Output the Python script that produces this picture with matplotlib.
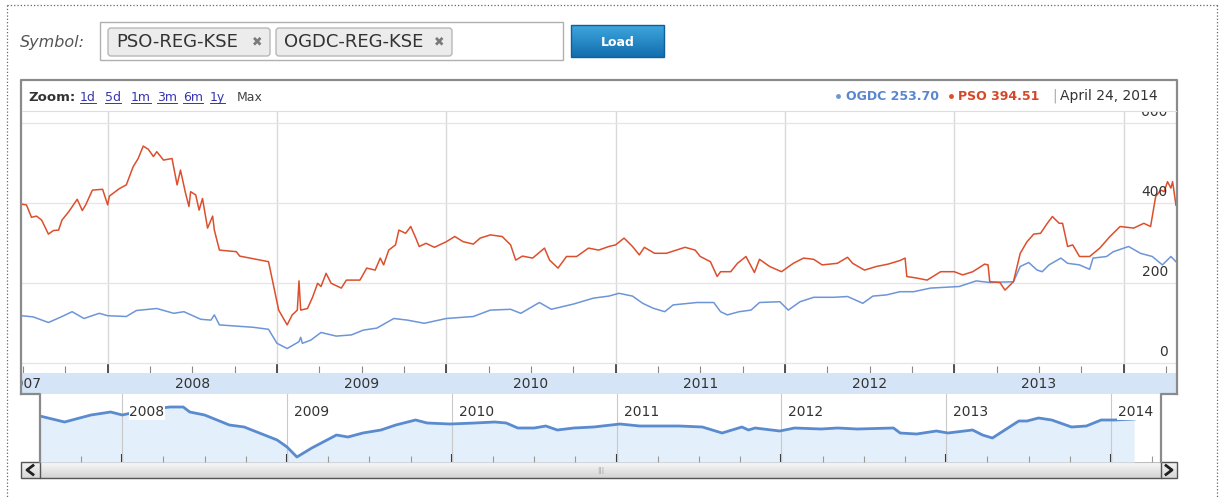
import numpy as np
import matplotlib.pyplot as plt
from matplotlib.patches import Rectangle, FancyBboxPatch

W, H = 1220, 498

# PSO-REG-KSE close (decimal year, price)
pso_t = [2007.49, 2007.52, 2007.55, 2007.58, 2007.61, 2007.65, 2007.68, 2007.71, 2007.73, 2007.77,
         2007.82, 2007.85, 2007.87, 2007.91, 2007.97, 2008.00, 2008.01, 2008.07, 2008.11, 2008.15,
         2008.18, 2008.21, 2008.24, 2008.27, 2008.29, 2008.33, 2008.38, 2008.41, 2008.43, 2008.46,
         2008.48, 2008.49, 2008.52, 2008.54, 2008.56, 2008.59, 2008.62, 2008.63, 2008.66, 2008.76,
         2008.78, 2008.95, 2009.01, 2009.06, 2009.09, 2009.12, 2009.13, 2009.14, 2009.18, 2009.21,
         2009.24, 2009.26, 2009.29, 2009.32, 2009.38, 2009.41, 2009.49, 2009.53, 2009.58, 2009.61,
         2009.63, 2009.66, 2009.70, 2009.72, 2009.76, 2009.79, 2009.82, 2009.84, 2009.88, 2009.93,
         2010.00, 2010.05, 2010.10, 2010.16, 2010.20, 2010.26, 2010.33, 2010.38, 2010.41, 2010.45,
         2010.51, 2010.58, 2010.61, 2010.66, 2010.71, 2010.77, 2010.84, 2010.90, 2010.96, 2011.00,
         2011.05, 2011.10, 2011.14, 2011.17, 2011.23, 2011.30, 2011.41, 2011.47, 2011.50, 2011.56,
         2011.60, 2011.62, 2011.68, 2011.72, 2011.77, 2011.82, 2011.85, 2011.91, 2011.98, 2012.05,
         2012.11, 2012.17, 2012.22, 2012.31, 2012.37, 2012.40, 2012.47, 2012.54, 2012.61, 2012.68,
         2012.71, 2012.72, 2012.78, 2012.84, 2012.92, 2013.00, 2013.05, 2013.11, 2013.18, 2013.20,
         2013.21, 2013.27, 2013.30, 2013.35, 2013.39, 2013.43, 2013.47, 2013.51, 2013.55, 2013.58,
         2013.62, 2013.64, 2013.67, 2013.70, 2013.74, 2013.80, 2013.86, 2013.92, 2013.98, 2014.06,
         2014.12, 2014.16, 2014.19, 2014.22, 2014.24, 2014.26, 2014.28, 2014.29, 2014.31]
pso_v = [398, 396, 365, 368, 358, 323, 332, 333, 358, 379,
         410, 382, 396, 433, 435, 396, 418, 437, 446, 491,
         512, 543, 535, 517, 529, 508, 512, 446, 483, 425,
         392, 429, 421, 383, 412, 338, 368, 333, 283, 279,
         268, 254, 133, 96, 121, 133, 206, 133, 137, 165,
         200, 192, 225, 200, 188, 208, 208, 238, 233, 263,
         246, 283, 296, 333, 325, 342, 313, 292, 300, 290,
         304, 317, 304, 298, 313, 321, 317, 296, 258, 268,
         263, 288, 258, 238, 267, 267, 288, 283, 292, 296,
         313, 292, 271, 290, 275, 275, 290, 283, 267, 254,
         217, 229, 229, 250, 267, 227, 260, 242, 229, 250,
         263, 260, 246, 250, 265, 250, 233, 242, 248, 257,
         263, 217, 213, 208, 229, 229, 221, 229, 248, 246,
         204, 202, 183, 204, 275, 304, 323, 325, 350, 367,
         350, 350, 292, 296, 267, 267, 288, 317, 342, 338,
         350, 342, 417, 433, 429, 454, 438, 454, 395]

# OGDC-REG-KSE close
ogdc_t = [2007.49, 2007.56, 2007.65, 2007.72, 2007.79, 2007.86, 2007.95, 2008.00, 2008.11, 2008.17,
          2008.29, 2008.39, 2008.45, 2008.55, 2008.61, 2008.63, 2008.66, 2008.86, 2008.95, 2009.00,
          2009.06, 2009.13, 2009.14, 2009.15, 2009.20, 2009.26, 2009.35, 2009.44, 2009.51, 2009.59,
          2009.69, 2009.77, 2009.87, 2010.00, 2010.16, 2010.26, 2010.38, 2010.44, 2010.55, 2010.62,
          2010.75, 2010.87, 2010.96, 2011.02, 2011.10, 2011.16, 2011.22, 2011.29, 2011.34, 2011.48,
          2011.58, 2011.62, 2011.66, 2011.73, 2011.80, 2011.85, 2011.97, 2012.02, 2012.09, 2012.17,
          2012.29, 2012.37, 2012.46, 2012.52, 2012.60, 2012.68, 2012.76, 2012.86, 2013.03, 2013.13,
          2013.21, 2013.35, 2013.39, 2013.44, 2013.49, 2013.52, 2013.56, 2013.63, 2013.67, 2013.74,
          2013.80, 2013.82, 2013.90, 2013.94, 2014.03, 2014.10, 2014.17, 2014.23, 2014.28, 2014.31]
ogdc_v = [119, 116, 102, 115, 129, 112, 125, 119, 117, 132,
          137, 125, 129, 110, 108, 121, 96, 90, 85, 50,
          37, 54, 65, 50, 58, 77, 68, 71, 83, 88,
          112, 108, 100, 112, 117, 133, 135, 125, 152, 135,
          148, 163, 168, 175, 168, 150, 138, 129, 146, 152,
          152, 129, 121, 129, 133, 152, 154, 133, 154, 165,
          165, 167, 150, 168, 171, 179, 179, 188, 192, 206,
          202, 204, 242, 252, 233, 229, 246, 263, 250, 246,
          235, 263, 267, 279, 292, 275, 267, 246, 267, 254]

# overview strip at the bottom (relative level)
nav_t = [2007.50, 2007.65, 2007.81, 2007.93, 2008.00, 2008.14, 2008.29, 2008.37, 2008.41, 2008.50,
         2008.65, 2008.74, 2008.94, 2009.00, 2009.06, 2009.15, 2009.30, 2009.37, 2009.46, 2009.57,
         2009.66, 2009.78, 2009.85, 2009.99, 2010.14, 2010.26, 2010.33, 2010.40, 2010.50, 2010.57,
         2010.64, 2010.74, 2010.86, 2011.02, 2011.14, 2011.38, 2011.52, 2011.64, 2011.76, 2011.80,
         2011.84, 2011.99, 2012.08, 2012.24, 2012.34, 2012.46, 2012.68, 2012.72, 2012.82, 2012.94,
         2013.01, 2013.16, 2013.22, 2013.28, 2013.44, 2013.49, 2013.56, 2013.64, 2013.76, 2013.85,
         2013.94, 2014.02, 2014.14]
nav_v = [46, 40, 47, 50, 47, 52, 55, 55, 50, 47,
         37, 35, 22, 15, 5, 14, 27, 25, 29, 32,
         37, 42, 39, 38, 39, 40, 39, 34, 34, 36,
         32, 34, 35, 38, 36, 36, 35, 29, 35, 32,
         34, 31, 34, 33, 34, 33, 34, 29, 28, 31,
         29, 32, 27, 24, 41, 41, 44, 42, 35, 36,
         42, 42, 43]

years = [2007, 2008, 2009, 2010, 2011, 2012, 2013, 2014]
y_ticks = [0, 200, 400, 600]
symbols = ["PSO-REG-KSE", "OGDC-REG-KSE"]
zoom_links = ["1d", "5d", "1m", "3m", "6m", "1y"]
last_ogdc = "OGDC 253.70"
last_pso = "PSO 394.51"
last_date = "April 24, 2014"

PSO_C = '#dc4f2c'
OGDC_C = '#6d95d8'
MAIN_XLIM = (2007.488, 2014.316)
NAV_XLIM = (2007.498, 2014.303)

fig = plt.figure(figsize=(W / 100, H / 100), dpi=100)
fig.patch.set_facecolor('white')


def px_axes(x0, y0, x1, y1, **kw):
    return fig.add_axes([x0 / W, 1 - y1 / H, (x1 - x0) / W, (y1 - y0) / H], **kw)


def canvas_axes():
    c = fig.add_axes([0, 0, 1, 1], facecolor='none')
    c.axis('off')
    return c


def vgrad(c, x0, x1, y0, y1, top, bot):
    a = np.array(plt.matplotlib.colors.to_rgb(top))
    b = np.array(plt.matplotlib.colors.to_rgb(bot))
    g = np.linspace(0, 1, 32)[:, None, None]
    img = a * (1 - g) + b * g
    c.imshow(img, extent=(x0, x1, y1, y0), aspect='auto', interpolation='bilinear', zorder=2)


quarters = [y + q for y in years for q in (0.25, 0.5, 0.75)]

# ---------- background canvas ----------
bg = canvas_axes()
bg.plot([7, 1218], [5, 5], ls=':', color='#666666', lw=0.9)
bg.plot([7, 7], [5, 498], ls=':', color='#666666', lw=0.9)
bg.plot([1217, 1217], [5, 498], ls=':', color='#666666', lw=0.9)

bg.text(20, 42, "Symbol:", fontsize=11.5, style='italic', color='#555555', va='center')
bg.add_patch(Rectangle((100, 22), 463, 38, fc='white', ec='#b0b0b0', lw=1))
tag_boxes = [(108, 162), (276, 176)]
for name, (tx, tw) in zip(symbols, tag_boxes):
    bg.add_patch(FancyBboxPatch((tx, 28), tw, 28, boxstyle='round,pad=0,rounding_size=3',
                                fc='#ececec', ec='#b8b8b8', lw=1))
    bg.text(tx + 8, 42, name, fontsize=13, color='#333333', va='center')
    bg.text(tx + tw - 8, 42, "✖", fontsize=9, color='#7a7a7a', va='center', ha='right')

vgrad(bg, 571, 664, 25, 57, '#3ea6de', '#136eae')
bg.add_patch(Rectangle((571, 25), 93, 32, fc='none', ec='#0f5f98', lw=1, zorder=3))
bg.text(617.5, 42, "Load", fontsize=9, color='white', weight='bold', ha='center', va='center', zorder=4)

# header row
bg.text(28, 101, "Zoom:", fontsize=9.5, weight='bold', color='#333333', va='baseline')
link_x = [80, 105, 131, 157, 183, 210]
link_texts = []
for lab, lx in zip(zoom_links, link_x):
    link_texts.append(bg.text(lx, 101, lab, fontsize=9, color='#3636b0', va='baseline'))
bg.text(237, 101, "Max", fontsize=9, color='#444444', va='baseline')

bg.plot([838], [96], 'o', ms=3.5, color=OGDC_C, mec='none')
bg.text(846, 96, last_ogdc, fontsize=9, weight='bold', color='#5a86d0', va='center')
bg.plot([951], [96], 'o', ms=3.5, color=PSO_C, mec='none')
bg.text(958, 96, last_pso, fontsize=9, weight='bold', color='#d4482a', va='center')
bg.text(1052, 96, "|", fontsize=10, color='#aaaaaa', va='center')
bg.text(1060, 96, last_date, fontsize=10, color='#333333', va='center')

# scrollbar
vgrad(bg, 39.5, 1161, 462, 478, '#f8f8f8', '#d4d4d4')
for bx0 in (21, 1161):
    bw = 18.5 if bx0 == 21 else 16
    vgrad(bg, bx0, bx0 + bw, 462, 478, '#f4f4f4', '#d8d8d8')
    bg.add_patch(Rectangle((bx0, 462), bw, 16, fc='none', ec='#555555', lw=1, zorder=3))
bg.plot([33, 27, 33], [465.5, 470, 474.5], color='#222222', lw=2, zorder=4)
bg.plot([1166, 1172, 1166], [465.5, 470, 474.5], color='#222222', lw=2, zorder=4)
bg.plot([39.5, 1161], [478, 478], color='#555555', lw=1, zorder=3)
bg.plot([39.5, 1161], [462, 462], color='#bdbdbd', lw=0.8, zorder=3)
bg.text(601, 470, "|||", fontsize=5, color='#a0a0a0', ha='center', va='center', zorder=4)

bg.set_xlim(0, W)
bg.set_ylim(H, 0)

# ---------- main chart ----------
ax = px_axes(21, 111, 1177, 373, facecolor='white')
ax.plot(ogdc_t, ogdc_v, color=OGDC_C, lw=1.1, zorder=3)
ax.plot(pso_t, pso_v, color=PSO_C, lw=1.1, zorder=4)
ax.set_xticks(years[1:])
ax.set_xticks(quarters, minor=True)
ax.set_yticks(y_ticks)
ax.set_xlim(MAIN_XLIM)
ax.set_ylim(-24.25, 630.75)
ax.grid(axis='x', which='major', color='#d9d9d9', lw=1, zorder=0)
ax.grid(axis='y', color='#e6e6e6', lw=1, zorder=0)
ax.tick_params(axis='x', which='major', direction='in', length=7, width=1.3, color='#444444',
               labelbottom=False)
ax.tick_params(axis='x', which='minor', direction='in', length=5, width=0.8, color='#888888')
ax.tick_params(axis='y', length=0, labelleft=False)
for s in ax.spines.values():
    s.set_visible(False)
for v in y_ticks:
    ax.annotate(str(v), xy=(0.992, v), xycoords=('axes fraction', 'data'), xytext=(0, 11),
                textcoords='offset pixels', ha='right', va='center', fontsize=10,
                color='#333333', zorder=5, clip_on=True, annotation_clip=False)

# year band under the chart (2007 is mostly cut by the left edge, as on the page)
band = px_axes(21, 373, 1177, 394, facecolor='#d5e4f6')
band.set_xlim(MAIN_XLIM)
band.set_ylim(0, 1)
for y in years[:-1]:
    band.text(y + 0.5, 0.48, str(y), ha='center', va='center', fontsize=10, color='#333333', clip_on=True)
band.set_xticks([])
band.set_yticks([])
for s in band.spines.values():
    s.set_visible(False)

# ---------- overview navigator ----------
nav = px_axes(39.5, 394, 1161, 462, facecolor='white')
nav.fill_between(nav_t, nav_v, 0, color='#e3effb', lw=0, zorder=1)
nav.plot(nav_t, nav_v, color='#5a8bcf', lw=2, zorder=3)
for y in years[1:]:
    nav.axvline(y, color='#c9c9c9', lw=0.8, zorder=2)
    nav.annotate(str(y), xy=(y, 50), xytext=(7, 0), textcoords='offset pixels', ha='left',
                 va='center', fontsize=10, color='#333333', zorder=4,
                 bbox=dict(fc='white', ec='none', pad=0.5))
nav.set_xticks(years[1:])
nav.set_xticks(quarters, minor=True)
nav.set_yticks([])
nav.set_xlim(NAV_XLIM)
nav.set_ylim(0, 68)
nav.tick_params(axis='x', which='major', direction='in', length=6, width=1.5, color='#333333',
                labelbottom=False, pad=0)
nav.tick_params(axis='x', which='minor', direction='in', length=4, width=0.8, color='#9a9a9a')
for s in nav.spines.values():
    s.set_visible(False)

# ---------- frame overlay ----------
fr = canvas_axes()
fr.plot([21, 21, 1177, 1177], [394, 80, 80, 394], color='#8a8a8a', lw=1.6)
fr.plot([21, 39.5, 39.5], [394, 394, 462], color='#8a8a8a', lw=1.6)
fr.plot([1177, 1161, 1161], [394, 394, 462], color='#8a8a8a', lw=1.6)
fr.plot([22, 1176], [111, 111], color='#dedede', lw=0.8)
fr.set_xlim(0, W)
fr.set_ylim(H, 0)

# underline the zoom links
fig.canvas.draw()
inv = bg.transData.inverted()
for t in link_texts:
    bb = t.get_window_extent()
    (x0, _), (x1, _) = inv.transform([[bb.x0, bb.y0], [bb.x1, bb.y1]])
    bg.plot([x0, x1], [102.5, 102.5], color='#3636b0', lw=0.7)
bg.set_xlim(0, W)
bg.set_ylim(H, 0)

fig.savefig('out.png', dpi=100, facecolor='white')
